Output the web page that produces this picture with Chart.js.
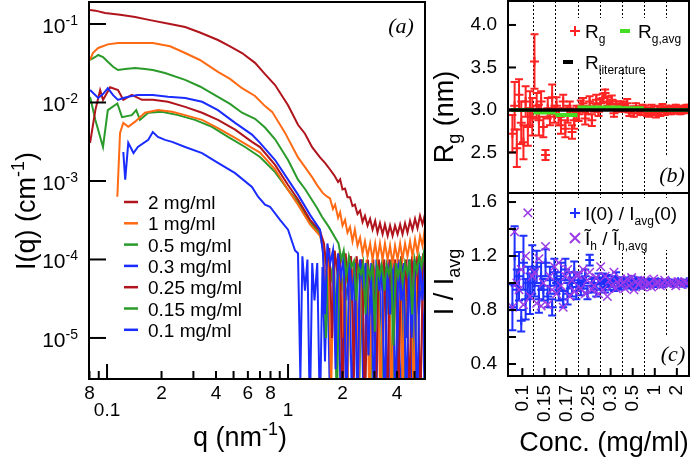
<!DOCTYPE html>
<html>
<head>
<meta charset="utf-8">
<script src="https://cdn.jsdelivr.net/npm/chart.js@4.4.1/dist/chart.umd.min.js"></script>
<style>
  html, body { margin: 0; padding: 0; background: #fff; }
  #wrap { position: relative; width: 692px; height: 458px; overflow: hidden; }
  canvas { position: absolute; }
  #cA { left: 0; top: 0; }
  #cB { left: 430px; top: 0; }
  #cC { left: 430px; top: 192px; }
</style>
</head>
<body>
<div id="wrap">
  <canvas id="cA" width="430" height="458"></canvas>
  <canvas id="cB" width="262" height="195"></canvas>
  <canvas id="cC" width="262" height="266"></canvas>
</div>
<script>
// ---- panel (a): I(q) curves, [q (nm^-1), I (cm^-1)] ----
var seriesNames = ['2 mg/ml', '1 mg/ml', '0.5 mg/ml', '0.3 mg/ml', '0.25 mg/ml', '0.17 mg/ml', '0.15 mg/ml', '0.1 mg/ml'];
var seriesColors = ['#b0141c', '#ff6a13', '#2a9a2a', '#1a2cff', '#b0141c', '#ff6a13', '#2a9a2a', '#1a2cff'];
var legendSeries = [0, 1, 2, 3, 4, 6, 7];

var curve2 = [[0.0806,0.151],[0.0862,0.148],[0.0975,0.138],[0.118,0.131],[0.143,0.123],[0.173,0.112],[0.223,0.100],[0.270,0.0916],[0.326,0.078],[0.410,0.0625],[0.478,0.052],[0.557,0.0427],[0.657,0.032],[0.746,0.023],[0.848,0.0167],[1.0,0.0092],[1.135,0.0052],[1.241,0.0040],[1.358,0.0027],[1.502,0.0020],[1.60,0.0017],[1.706,0.0014],[1.80,0.00118],[1.89,0.00097],[1.94,0.00105],[2.0,0.00078],[2.065,0.0008],[2.13,0.00062],[2.20,0.00062],[2.27,0.00048],[2.34,0.0005],[2.42,0.00038],[2.50,0.00042],[2.58,0.0003],[2.66,0.00036],[2.75,0.00027],[2.84,0.00033],[2.93,0.00024],[3.03,0.00031],[3.12,0.00022],[3.22,0.00029],[3.33,0.00021],[3.43,0.00028],[3.55,0.0002],[3.66,0.00027],[3.78,0.0002],[3.90,0.00027],[4.03,0.00021],[4.16,0.00028],[4.29,0.00021],[4.43,0.00029],[4.57,0.00022],[4.72,0.00031],[4.87,0.00024],[5.03,0.00033],[5.19,0.00025],[5.36,0.00036],[5.53,0.00028],[5.71,0.00038]];
var curve1 = [[0.0806,0.0348],[0.0837,0.043],[0.0894,0.0495],[0.101,0.055],[0.115,0.0573],[0.143,0.0573],[0.179,0.0573],[0.223,0.052],[0.270,0.0427],[0.326,0.0348],[0.410,0.0245],[0.478,0.020],[0.557,0.0152],[0.657,0.0121],[0.746,0.009],[0.817,0.0076],[0.963,0.0041],[1.135,0.002],[1.241,0.0015],[1.358,0.00112],[1.45,0.00088],[1.55,0.00071],[1.63,0.00064],[1.706,0.0006],[1.77,0.00044],[1.82,0.0005],[1.89,0.00034],[1.94,0.0004],[2.0,0.00027],[2.065,0.00032],[2.13,0.00022],[2.20,0.00026],[2.27,0.00017],[2.34,0.00024],[2.42,0.00015],[2.50,0.00019],[2.58,0.00012],[2.66,0.00017],[2.75,0.00011],[2.84,0.00016],[2.93,0.0001],[3.03,0.00016],[3.12,0.0001],[3.22,0.00016],[3.33,0.0001],[3.43,0.00016],[3.55,0.0001],[3.66,0.00015],[3.78,0.00009],[3.90,0.00015],[4.03,0.0001],[4.16,0.00016],[4.29,0.0001],[4.43,0.00016],[4.57,0.00011],[4.72,0.00017],[4.87,0.00011],[5.03,0.00018],[5.19,0.00012],[5.36,0.0002],[5.53,0.00015],[5.71,0.00026]];
var curve05 = [[0.0806,0.0348],[0.0862,0.038],[0.0894,0.0403],[0.095,0.038],[0.101,0.033],[0.108,0.0285],[0.115,0.0259],[0.126,0.0267],[0.143,0.0275],[0.162,0.0267],[0.179,0.0259],[0.209,0.0237],[0.270,0.0194],[0.326,0.016],[0.410,0.0118],[0.478,0.0096],[0.557,0.0074],[0.657,0.0062],[0.746,0.0048],[0.848,0.0034],[1.0,0.00185],[1.135,0.00104],[1.241,0.00079],[1.45,0.00045],[1.54,0.00035],[1.68,0.00026],[1.818,0.00019],[1.9,0.00016],[1.97,0.0001],[2.03,0.00013],[2.1,0.00006],[2.17,0.00011],[2.24,0.00008],[2.31,0.000095],[2.38,0.00003],[2.45,0.00008],[2.53,0.000065],[2.6,0.00009],[2.68,0.00002],[2.76,0.00008],[2.85,0.00006],[2.93,0.00009],[3.02,0.000012],[3.11,0.000085],[3.2,0.00006],[3.3,0.00009],[3.4,0.00004],[3.5,0.000085],[3.6,0.000065],[3.71,0.00009],[3.82,0.000008],[3.94,0.00009],[4.06,0.00006],[4.18,0.00009],[4.3,0.00005],[4.43,0.00009],[4.57,0.000065],[4.7,0.0001],[4.85,0.00002],[5.0,0.0001],[5.15,0.00007],[5.3,0.00011],[5.46,0.00008],[5.62,0.00012],[5.71,0.00009]];
var curve03 = [[0.0806,0.0144],[0.0894,0.0114],[0.095,0.0128],[0.101,0.0152],[0.108,0.0124],[0.115,0.0108],[0.123,0.0114],[0.131,0.0118],[0.148,0.0125],[0.179,0.0125],[0.217,0.0118],[0.270,0.0114],[0.335,0.0102],[0.410,0.008],[0.510,0.0055],[0.632,0.0039],[0.700,0.00306],[0.848,0.00185],[1.0,0.00104],[1.135,0.00067],[1.323,0.00037],[1.502,0.00024],[1.56,0.00012],[1.6,0.00002],[1.65,0.00016],[1.71,0.00009],[1.77,0.00013],[1.83,0.000004],[1.89,0.00012],[1.96,0.00006],[2.03,0.00011],[2.1,0.000001],[2.18,0.0001],[2.26,0.00003],[2.34,0.00009],[2.42,0.000001],[2.5,0.0001],[2.59,0.00005],[2.68,0.00009],[2.78,0.000006],[2.88,0.00009],[2.98,0.000001],[3.08,0.0001],[3.19,0.00004],[3.3,0.00009],[3.42,0.000001],[3.54,0.0001],[3.66,0.00002],[3.79,0.00009],[3.92,0.000001],[4.06,0.0001],[4.2,0.00003],[4.35,0.00009],[4.5,0.000001],[4.66,0.0001],[4.82,0.00001],[4.99,0.0001],[5.17,0.000001],[5.35,0.00011],[5.53,0.00003],[5.71,0.0001]];
var curve025 = [[0.0806,0.00306],[0.0862,0.008],[0.0916,0.0144],[0.095,0.0108],[0.104,0.0156],[0.115,0.0144],[0.123,0.0108],[0.137,0.0125],[0.156,0.0108],[0.179,0.0108],[0.217,0.0102],[0.270,0.0088],[0.335,0.0074],[0.410,0.006],[0.510,0.0045],[0.632,0.00315],[0.700,0.0027],[0.848,0.0016],[1.0,0.00089],[1.135,0.00058],[1.323,0.00032],[1.502,0.00023],[1.58,0.00016],[1.63,0.00008],[1.69,0.00014],[1.75,0.00001],[1.81,0.00013],[1.87,0.00007],[1.94,0.00012],[2.0,0.000001],[2.08,0.00012],[2.15,0.00005],[2.23,0.00011],[2.31,0.000003],[2.39,0.00011],[2.48,0.00006],[2.57,0.0001],[2.66,0.000001],[2.76,0.0001],[2.86,0.00004],[2.96,0.0001],[3.06,0.000002],[3.17,0.0001],[3.29,0.00005],[3.4,0.0001],[3.53,0.000001],[3.65,0.0001],[3.78,0.00002],[3.92,0.0001],[4.06,0.000001],[4.21,0.00011],[4.36,0.00004],[4.51,0.0001],[4.67,0.000001],[4.84,0.00011],[5.01,0.00005],[5.19,0.00011],[5.38,0.000001],[5.57,0.00012],[5.71,0.00006]];
var curve017 = [[0.114,0.00063],[0.118,0.0041],[0.123,0.0055],[0.131,0.0049],[0.143,0.0057],[0.162,0.0074],[0.191,0.008],[0.229,0.0076],[0.270,0.0069],[0.335,0.006],[0.410,0.0047],[0.510,0.00354],[0.632,0.00265],[0.700,0.0023],[0.848,0.00141],[1.0,0.00077],[1.135,0.0005],[1.323,0.00028],[1.502,0.0002],[1.55,0.00015],[1.61,0.00005],[1.67,0.00013],[1.73,0.000002],[1.79,0.00012],[1.85,0.00009],[1.92,0.00012],[1.98,0.00001],[2.05,0.00011],[2.12,0.000001],[2.2,0.00011],[2.28,0.00006],[2.36,0.0001],[2.45,0.000002],[2.54,0.0001],[2.63,0.00004],[2.72,0.0001],[2.82,0.000001],[2.92,0.0001],[3.02,0.00006],[3.13,0.0001],[3.24,0.000001],[3.36,0.0001],[3.48,0.00003],[3.6,0.0001],[3.73,0.000001],[3.87,0.0001],[4.0,0.00005],[4.15,0.0001],[4.3,0.000002],[4.45,0.0001],[4.61,0.00003],[4.78,0.0001],[4.95,0.000001],[5.13,0.00011],[5.32,0.00004],[5.51,0.00011],[5.71,0.00002]];
var curve015 = [[0.0806,0.0118],[0.0862,0.006],[0.095,0.00271],[0.101,0.008],[0.114,0.0097],[0.121,0.0065],[0.137,0.0069],[0.145,0.008],[0.152,0.006],[0.169,0.0074],[0.201,0.0076],[0.247,0.0069],[0.306,0.006],[0.380,0.0049],[0.466,0.00364],[0.579,0.00271],[0.700,0.00202],[0.848,0.0013],[1.0,0.00077],[1.135,0.00054],[1.323,0.0003],[1.502,0.00021],[1.57,0.00013],[1.62,0.00001],[1.68,0.00011],[1.74,0.00006],[1.8,0.0001],[1.86,0.000001],[1.92,0.0001],[1.99,0.00004],[2.06,0.00009],[2.13,0.000002],[2.21,0.00009],[2.29,0.00005],[2.37,0.00009],[2.46,0.000001],[2.55,0.00009],[2.64,0.00003],[2.74,0.00009],[2.84,0.000001],[2.94,0.00009],[3.05,0.00005],[3.15,0.00009],[3.27,0.000001],[3.38,0.00009],[3.5,0.00002],[3.63,0.00009],[3.76,0.000001],[3.89,0.00009],[4.03,0.00004],[4.18,0.00009],[4.33,0.000001],[4.48,0.00009],[4.64,0.00003],[4.81,0.00009],[4.98,0.000001],[5.16,0.0001],[5.35,0.00004],[5.54,0.0001],[5.71,0.00003]];
var curve01 = [[0.123,0.00234],[0.126,0.00104],[0.131,0.00306],[0.140,0.00227],[0.148,0.00271],[0.169,0.00334],[0.179,0.0042],[0.191,0.00364],[0.209,0.00334],[0.229,0.00315],[0.270,0.00271],[0.335,0.00227],[0.410,0.0017],[0.510,0.00126],[0.632,0.00084],[0.683,0.00063],[0.746,0.0005],[0.795,0.00047],[0.903,0.00032],[1.0,0.00024],[1.093,0.00013],[1.135,0.00012],[1.17,0.000003],[1.2,0.00011],[1.24,0.00004],[1.28,0.0001],[1.32,0.000001],[1.36,0.00009],[1.4,0.00003],[1.45,0.00009],[1.5,0.000001],[1.55,0.00008],[1.6,0.000005],[1.65,0.00008],[1.71,0.000001],[1.77,0.00008],[1.83,0.00002],[1.89,0.00008],[1.96,0.000001],[2.03,0.00007],[2.1,0.00003],[2.18,0.00008],[2.26,0.000001],[2.34,0.00007],[2.43,0.000008],[2.52,0.00008],[2.62,0.000001],[2.72,0.00007],[2.83,0.00002],[2.94,0.00008],[3.06,0.000001],[3.18,0.00007],[3.3,0.00001],[3.43,0.00008],[3.57,0.000001],[3.71,0.00007],[3.86,0.00003],[4.01,0.00008],[4.17,0.000001],[4.34,0.00008],[4.51,0.00001],[4.69,0.00008],[4.88,0.000001],[5.07,0.00009],[5.28,0.00002],[5.49,0.00009],[5.71,0.000001]];
var curves = [curve2, curve1, curve05, curve03, curve025, curve017, curve015, curve01];

var qTicks = [0.08, 0.09, 0.1, 0.2, 0.3, 0.4, 0.5, 0.6, 0.7, 0.8, 0.9, 1, 2, 3, 4, 5];
var qTickLabels = ['8', '', ['', '0.1'], '2', '', '4', '', '6', '', '8', '', ['', '1'], '2', '', '4', ''];
var qMajor = [0.1, 1];
var iTicks = [1e-1, 1e-2, 1e-3, 1e-4, 1e-5];
var iTickExp = ['-1', '-2', '-3', '-4', '-5'];

// ---- panels (b) and (c): 10 measurements per concentration ----
var concLabels = ['0.1', '0.15', '0.17', '0.25', '0.3', '0.5', '1', '2'];
var perGroup = 10;
var rg = [2.72, 3.05, 2.55, 3.18, 2.85, 2.62, 3.10, 2.80, 3.02, 2.92,
          3.57, 3.05, 2.88, 3.10, 2.80, 2.47, 3.02, 2.92, 3.15, 2.95,
          3.05, 2.92, 2.82, 3.10, 2.78, 2.95, 3.02, 2.74, 2.88, 2.97,
          2.95, 3.05, 3.08, 2.90, 3.00, 3.10, 2.88, 3.03, 3.12, 2.98,
          3.08, 3.14, 3.20, 3.10, 3.04, 3.12, 2.96, 3.07, 3.02, 3.06,
          3.05, 3.02, 3.08, 2.97, 3.00, 2.96, 3.04, 3.00, 2.98, 3.02,
          3.00, 2.98, 2.97, 3.01, 2.99, 2.96, 3.00, 2.98, 3.02, 2.99,
          3.00, 3.01, 2.99, 3.00, 3.02, 3.00, 2.99, 3.01, 3.00, 3.02];
var rgErr = [0.22, 0.28, 0.22, 0.18, 0.25, 0.20, 0.18, 0.22, 0.20, 0.22,
             0.32, 0.15, 0.18, 0.12, 0.12, 0.06, 0.12, 0.10, 0.15, 0.10,
             0.10, 0.10, 0.10, 0.08, 0.10, 0.10, 0.08, 0.08, 0.10, 0.08,
             0.08, 0.06, 0.06, 0.07, 0.05, 0.06, 0.07, 0.05, 0.06, 0.05,
             0.05, 0.05, 0.04, 0.05, 0.04, 0.05, 0.04, 0.03, 0.04, 0.04,
             0.05, 0.04, 0.05, 0.04, 0.04, 0.04, 0.04, 0.04, 0.04, 0.04,
             0.05, 0.05, 0.05, 0.05, 0.05, 0.05, 0.05, 0.05, 0.05, 0.05,
             0.04, 0.04, 0.04, 0.04, 0.04, 0.04, 0.04, 0.04, 0.04, 0.04];
var rgAvg = [3.0, 2.97, 2.94, 3.03, 3.03, 3.02, 3.0, 3.0];
var rLiterature = 3.0;
var i0Ratio = [0.82, 1.20, 0.95, 1.05, 0.72, 1.15, 0.88, 1.00, 0.92, 1.10,
               1.00, 1.12, 0.88, 1.05, 0.95, 1.15, 0.90, 1.02, 0.82, 1.08,
               1.00, 0.95, 1.05, 0.88, 1.10, 0.92, 1.02, 0.97, 1.08, 0.94,
               1.02, 0.96, 1.00, 1.05, 0.93, 1.17, 0.98, 1.00, 0.95, 1.03,
               1.00, 1.03, 0.97, 1.02, 0.99, 1.01, 0.98, 1.04, 1.00, 0.99,
               1.00, 1.01, 0.99, 1.00, 1.02, 0.98, 1.00, 1.01, 0.99, 1.00,
               1.00, 0.99, 1.01, 1.00, 0.99, 1.00, 1.01, 1.00, 0.99, 1.00,
               1.00, 1.01, 1.00, 0.99, 1.00, 1.01, 1.00, 1.00, 0.99, 1.01];
var i0Err = [0.17, 0.22, 0.15, 0.18, 0.08, 0.20, 0.15, 0.12, 0.15, 0.18,
             0.10, 0.12, 0.10, 0.10, 0.08, 0.10, 0.08, 0.10, 0.06, 0.10,
             0.08, 0.08, 0.10, 0.06, 0.08, 0.08, 0.06, 0.07, 0.08, 0.06,
             0.05, 0.05, 0.04, 0.05, 0.05, 0.04, 0.05, 0.04, 0.05, 0.04,
             0.04, 0.04, 0.04, 0.04, 0.04, 0.04, 0.04, 0.04, 0.04, 0.04,
             0.03, 0.03, 0.03, 0.03, 0.03, 0.03, 0.03, 0.03, 0.03, 0.03,
             0.02, 0.02, 0.02, 0.02, 0.02, 0.02, 0.02, 0.02, 0.02, 0.02,
             0.015, 0.015, 0.015, 0.015, 0.015, 0.015, 0.015, 0.015, 0.015, 0.015];
var ihRatio = [0.82, 1.38, 1.00, 0.95, 1.10, 0.84, 1.20, 1.52, 0.90, 1.05,
               1.08, 0.85, 1.18, 0.83, 1.00, 1.27, 0.84, 1.05, 0.95, 1.12,
               0.92, 1.15, 0.98, 0.82, 1.05, 1.10, 0.90, 1.02, 0.94, 1.06,
               1.06, 0.96, 1.10, 0.92, 1.02, 1.08, 0.95, 0.98, 1.04, 0.92,
               1.12, 0.95, 1.05, 0.90, 1.02, 0.98, 1.08, 0.96, 1.00, 1.03,
               1.00, 0.96, 1.03, 0.98, 1.04, 0.95, 1.01, 0.99, 1.02, 0.97,
               1.02, 0.98, 1.00, 0.97, 1.03, 0.99, 1.01, 0.98, 1.00, 1.02,
               1.00, 0.99, 1.01, 1.00, 0.98, 1.01, 1.00, 0.99, 1.01, 1.00];
var rgTicks = [2.5, 3.0, 3.5, 4.0];
var ratioTicks = [0.4, 0.8, 1.2, 1.6];
var ratioMinor = [0.4, 0.6, 0.8, 1.0, 1.2, 1.4, 1.6];

var FONT = '"Liberation Sans", Arial, sans-serif';
var SERIF = '"Liberation Serif", "Times New Roman", serif';

// ---------- drawing helpers ----------
function rich(ctx, x, y, parts, size, align) {
  var small = Math.round(size * 0.65);
  var w = 0;
  parts.forEach(function (p) {
    ctx.font = (p[1] ? small : size) + 'px ' + FONT;
    w += ctx.measureText(p[0]).width;
  });
  var cx = align === 'center' ? x - w / 2 : (align === 'right' ? x - w : x);
  ctx.textAlign = 'left';
  ctx.textBaseline = 'alphabetic';
  ctx.fillStyle = '#000';
  parts.forEach(function (p) {
    ctx.font = (p[1] ? small : size) + 'px ' + FONT;
    var dy = p[1] === 1 ? -size * 0.4 : (p[1] === -1 ? size * 0.25 : 0);
    ctx.fillText(p[0], cx, y + dy);
    cx += ctx.measureText(p[0]).width;
  });
}

function vrich(ctx, x, y, parts, size) {
  ctx.save();
  ctx.translate(x, y);
  ctx.rotate(-Math.PI / 2);
  rich(ctx, 0, 0, parts, size, 'center');
  ctx.restore();
}

function frame(ctx, a) {
  ctx.save();
  ctx.strokeStyle = '#000';
  ctx.lineWidth = 2;
  ctx.strokeRect(a.left, a.top, a.right - a.left, a.bottom - a.top);
  ctx.restore();
}

function tickMarks(chart, id, values, len) {
  var ctx = chart.ctx, a = chart.chartArea, s = chart.scales[id];
  ctx.save();
  ctx.strokeStyle = '#000';
  ctx.lineWidth = 2;
  values.forEach(function (v) {
    var p = s.getPixelForValue(v);
    var l = typeof len === 'function' ? len(v) : len;
    ctx.beginPath();
    if (s.isHorizontal()) { ctx.moveTo(p, a.bottom); ctx.lineTo(p, a.bottom - l); }
    else { ctx.moveTo(a.left, p); ctx.lineTo(a.left + l, p); }
    ctx.stroke();
  });
  ctx.restore();
}

function marker(ctx, kind, x, y, r, color) {
  ctx.save();
  ctx.strokeStyle = color;
  ctx.lineWidth = 2;
  ctx.beginPath();
  if (kind === 'cross') {
    ctx.moveTo(x - r, y); ctx.lineTo(x + r, y);
    ctx.moveTo(x, y - r); ctx.lineTo(x, y + r);
  } else if (kind === 'crossRot') {
    ctx.moveTo(x - r, y - r); ctx.lineTo(x + r, y + r);
    ctx.moveTo(x - r, y + r); ctx.lineTo(x + r, y - r);
  } else {
    ctx.lineWidth = 4;
    ctx.moveTo(x - 5, y); ctx.lineTo(x + 5, y);
  }
  ctx.stroke();
  ctx.restore();
}

// keep label overflow from moving the plot area
function noPad(s) {
  s.paddingTop = 0; s.paddingBottom = 0; s.paddingLeft = 0; s.paddingRight = 0;
}

function groupBounds() {
  var out = [];
  for (var g = 1; g < concLabels.length; g++) out.push(g * perGroup - 0.5);
  return out;
}
function groupCenters() {
  return concLabels.map(function (c, g) { return g * perGroup + (perGroup - 1) / 2; });
}

var errorBars = {
  id: 'errorBars',
  beforeDatasetsDraw: function (chart) {
    var ctx = chart.ctx, a = chart.chartArea, ys = chart.scales.y;
    ctx.save();
    ctx.beginPath();
    ctx.rect(a.left, a.top, a.right - a.left, a.bottom - a.top);
    ctx.clip();
    chart.data.datasets.forEach(function (ds, i) {
      if (!ds.errors) return;
      var meta = chart.getDatasetMeta(i);
      ctx.strokeStyle = ds.borderColor;
      ctx.lineWidth = 2;
      meta.data.forEach(function (pt, j) {
        var v = ds.data[j].y, e = ds.errors[j];
        var t = ys.getPixelForValue(v + e), b = ys.getPixelForValue(v - e);
        ctx.beginPath();
        ctx.moveTo(pt.x, t); ctx.lineTo(pt.x, b);
        ctx.moveTo(pt.x - 4, t); ctx.lineTo(pt.x + 4, t);
        ctx.moveTo(pt.x - 4, b); ctx.lineTo(pt.x + 4, b);
        ctx.stroke();
      });
    });
    ctx.restore();
  }
};

var dashedGroups = {
  id: 'dashedGroups',
  beforeDatasetsDraw: function (chart) {
    var ctx = chart.ctx, a = chart.chartArea, xs = chart.scales.x;
    ctx.save();
    ctx.strokeStyle = '#000';
    ctx.lineWidth = 1;
    ctx.setLineDash([2, 2]);
    groupBounds().forEach(function (b) {
      var px = Math.round(xs.getPixelForValue(b)) + 0.5;
      ctx.beginPath();
      ctx.moveTo(px, a.top);
      ctx.lineTo(px, a.bottom);
      ctx.stroke();
    });
    ctx.restore();
  }
};

var common = {
  responsive: false,
  animation: false,
  events: [],
  plugins: { legend: { display: false }, tooltip: { enabled: false } }
};

// ---------- panel (a) ----------
var panelA = {
  id: 'panelA',
  afterDraw: function (chart) {
    var ctx = chart.ctx, a = chart.chartArea, ys = chart.scales.y;
    frame(ctx, a);
    tickMarks(chart, 'x', qTicks, function (v) { return qMajor.indexOf(v) >= 0 ? 15 : 8; });
    tickMarks(chart, 'y', iTicks, 17);
    iTicks.forEach(function (v, k) {
      rich(ctx, a.left - 11, ys.getPixelForValue(v) + 9, [['10', 0], [iTickExp[k], 1]], 21, 'right');
    });
    rich(ctx, 240, 446, [['q (nm', 0], ['-1', 1], [')', 0]], 27, 'center');
    vrich(ctx, 35, 211, [['I(q) (cm', 0], ['-1', 1], [')', 0]], 27);
    legendSeries.forEach(function (k, r) {
      var y = 202 + r * 21.3;
      ctx.save();
      ctx.strokeStyle = seriesColors[k];
      ctx.lineWidth = 2.5;
      ctx.beginPath();
      ctx.moveTo(124, y); ctx.lineTo(138, y);
      ctx.stroke();
      ctx.restore();
      rich(ctx, 148, y + 7, [[seriesNames[k], 0]], 19, 'left');
    });
    ctx.fillStyle = '#000';
    ctx.font = 'italic 22px ' + SERIF;
    ctx.textAlign = 'center';
    ctx.textBaseline = 'middle';
    ctx.fillText('(a)', a.right - 24, a.top + 25);
  }
};

new Chart(document.getElementById('cA'), {
  type: 'scatter',
  data: {
    datasets: curves.map(function (c, k) {
      return {
        label: seriesNames[k], data: c, showLine: true,
        borderColor: seriesColors[k], borderWidth: 2, pointRadius: 0, tension: 0
      };
    })
  },
  options: Object.assign({}, common, {
    layout: { autoPadding: false, padding: { left: 0, right: 5, top: 2, bottom: 0 } },
    scales: {
      x: {
        type: 'logarithmic', min: 0.0795, max: 5.71,
        grid: { display: false, drawTicks: false }, border: { display: false },
        afterBuildTicks: function (s) { s.ticks = qTicks.map(function (v) { return { value: v }; }); },
        afterFit: function (s) { s.height = 79; noPad(s); },
        ticks: {
          autoSkip: false, maxRotation: 0, minRotation: 0, padding: 6, color: '#000',
          font: { family: FONT, size: 19, lineHeight: 0.9 },
          callback: function (v, i) { return qTickLabels[i]; }
        }
      },
      y: {
        type: 'logarithmic', min: 3.0e-6, max: 0.1907,
        grid: { display: false, drawTicks: false }, border: { display: false },
        afterBuildTicks: function (s) { s.ticks = iTicks.map(function (v) { return { value: v }; }); },
        afterFit: function (s) { s.width = 89; noPad(s); },
        ticks: { display: false }
      }
    }
  }),
  plugins: [panelA]
});

// ---------- panel (b) ----------
var panelB = {
  id: 'panelB',
  afterDatasetsDraw: function (chart) {
    var ctx = chart.ctx, a = chart.chartArea;
    ctx.fillStyle = '#fff';
    ctx.fillRect(a.left + 54, a.top + 17, a.right - a.left - 54, 50);
    ctx.fillRect(a.right - 33, a.bottom - 36, 33, 36);
    marker(ctx, 'cross', a.left + 67, a.top + 30, 5, '#ff2424');
    rich(ctx, a.left + 77, a.top + 37, [['R', 0], ['g', -1]], 19, 'left');
    marker(ctx, 'line', a.left + 117, a.top + 30, 0, '#44dd22');
    rich(ctx, a.left + 130, a.top + 37, [['R', 0], ['g,avg', -1]], 19, 'left');
    marker(ctx, 'line', a.left + 60, a.top + 61, 0, '#000');
    rich(ctx, a.left + 77, a.top + 68, [['R', 0], ['literature', -1]], 19, 'left');
    ctx.fillStyle = '#000';
    ctx.font = 'italic 22px ' + SERIF;
    ctx.textAlign = 'center';
    ctx.textBaseline = 'middle';
    ctx.fillText('(b)', a.right - 17, a.bottom - 17);
  },
  afterDraw: function (chart) {
    var ctx = chart.ctx, a = chart.chartArea;
    frame(ctx, a);
    tickMarks(chart, 'y', rgTicks, 8);
    vrich(ctx, 23, 117, [['R', 0], ['g', -1], [' (nm)', 0]], 27);
  }
};

var rgAvgLine = [];
rgAvg.forEach(function (v, g) {
  rgAvgLine.push({ x: g * perGroup - 0.5, y: v }, { x: (g + 1) * perGroup - 0.5, y: v }, { x: (g + 1) * perGroup - 0.5, y: null });
});

new Chart(document.getElementById('cB'), {
  type: 'scatter',
  data: {
    datasets: [
      {
        label: 'R literature', data: [{ x: -2, y: rLiterature }, { x: concLabels.length * perGroup, y: rLiterature }],
        showLine: true, borderColor: '#000', borderWidth: 3.5, pointRadius: 0, order: 0
      },
      {
        label: 'Rg,avg', data: rgAvgLine, showLine: true, spanGaps: false,
        borderColor: '#44dd22', borderWidth: 4, pointRadius: 0, order: 1
      },
      {
        label: 'Rg', data: rg.map(function (v, i) { return { x: i, y: v }; }), errors: rgErr,
        borderColor: '#ff2424', pointStyle: 'cross', pointRadius: 4.5, pointBorderWidth: 2, order: 2
      }
    ]
  },
  options: Object.assign({}, common, {
    layout: { autoPadding: false, padding: { left: 0, right: 3, top: 1, bottom: 2 } },
    scales: {
      x: { type: 'linear', min: -2, max: concLabels.length * perGroup, display: false },
      y: {
        type: 'linear', min: 2.023, max: 4.282,
        grid: { display: false, drawTicks: false }, border: { display: false },
        afterBuildTicks: function (s) { s.ticks = rgTicks.map(function (v) { return { value: v }; }); },
        afterFit: function (s) { s.width = 78; noPad(s); },
        ticks: {
          padding: 11, color: '#000', font: { family: FONT, size: 19 },
          callback: function (v) { return v.toFixed(1); }
        }
      }
    }
  }),
  plugins: [dashedGroups, errorBars, panelB]
});

// ---------- panel (c) ----------
var panelC = {
  id: 'panelC',
  afterDatasetsDraw: function (chart) {
    var ctx = chart.ctx, a = chart.chartArea;
    ctx.fillStyle = '#fff';
    ctx.fillRect(a.left + 58, a.top + 5, a.right - a.left - 58, 52);
    ctx.fillRect(a.right - 34, a.bottom - 41, 34, 41);
    marker(ctx, 'cross', a.left + 67, a.top + 20, 5, '#1f30ff');
    rich(ctx, a.left + 77, a.top + 27, [['I(0) / I', 0], ['avg', -1], ['(0)', 0]], 19, 'left');
    marker(ctx, 'crossRot', a.left + 67, a.top + 45, 5, '#9b3be6');
    rich(ctx, a.left + 77, a.top + 52, [['\u0128', 0], ['h', -1], [' / \u0128', 0], ['h,avg', -1]], 19, 'left');
    ctx.fillStyle = '#000';
    ctx.font = 'italic 22px ' + SERIF;
    ctx.textAlign = 'center';
    ctx.textBaseline = 'middle';
    ctx.fillText('(c)', a.right - 16, a.bottom - 21);
  },
  afterDraw: function (chart) {
    var ctx = chart.ctx, a = chart.chartArea;
    frame(ctx, a);
    tickMarks(chart, 'y', ratioMinor, 8);
    tickMarks(chart, 'x', groupCenters(), 8);
    vrich(ctx, 23, 90, [['I / I', 0], ['avg', -1]], 27);
    rich(ctx, 174, 259, [['Conc. (mg/ml)', 0]], 27, 'center');
  }
};

new Chart(document.getElementById('cC'), {
  type: 'scatter',
  data: {
    datasets: [
      {
        label: 'Ih ratio', data: ihRatio.map(function (v, i) { return { x: i, y: v }; }),
        borderColor: '#9b3be6', pointStyle: 'crossRot', pointRadius: 6, pointBorderWidth: 1.5, order: 0
      },
      {
        label: 'I(0) ratio', data: i0Ratio.map(function (v, i) { return { x: i, y: v }; }), errors: i0Err,
        borderColor: '#1f30ff', pointStyle: 'cross', pointRadius: 4.5, pointBorderWidth: 2, order: 1
      }
    ]
  },
  options: Object.assign({}, common, {
    layout: { autoPadding: false, padding: { left: 0, right: 3, top: 1, bottom: 0 } },
    scales: {
      x: {
        type: 'linear', min: -2, max: concLabels.length * perGroup,
        grid: { display: false, drawTicks: false }, border: { display: false },
        afterBuildTicks: function (s) { s.ticks = groupCenters().map(function (v) { return { value: v }; }); },
        afterFit: function (s) { s.height = 82; noPad(s); },
        ticks: {
          autoSkip: false, minRotation: 90, maxRotation: 90, padding: 9, color: '#000',
          font: { family: FONT, size: 19 },
          callback: function (v, i) { return concLabels[i]; }
        }
      },
      y: {
        type: 'linear', min: 0.311, max: 1.667,
        grid: { display: false, drawTicks: false }, border: { display: false },
        afterBuildTicks: function (s) { s.ticks = ratioTicks.map(function (v) { return { value: v }; }); },
        afterFit: function (s) { s.width = 78; noPad(s); },
        ticks: {
          padding: 11, color: '#000', font: { family: FONT, size: 19 },
          callback: function (v) { return v.toFixed(1); }
        }
      }
    }
  }),
  plugins: [dashedGroups, errorBars, panelC]
});
</script>
</body>
</html>
